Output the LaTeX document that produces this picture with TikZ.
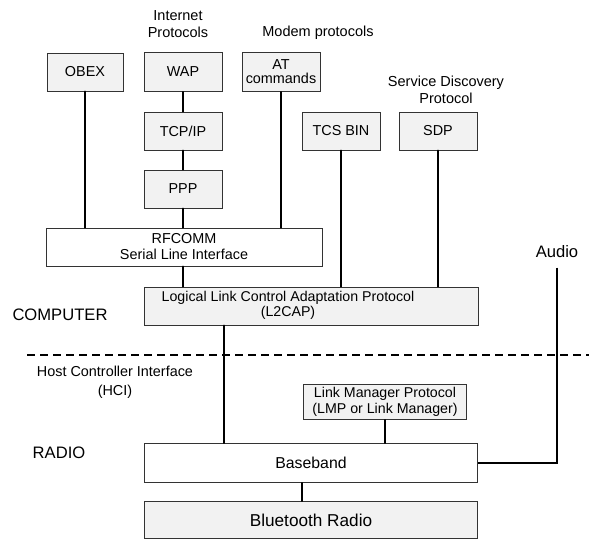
\documentclass[tikz,border=0pt]{standalone}
\usepackage{fontspec}
\setmainfont{Liberation Sans}
\usetikzlibrary{positioning}

\tikzset{
  layer/.style={draw=black!80, line width=0.8pt, fill=gray!10, inner sep=1pt,
    align=center, font=\fontsize{14.4}{14}\selectfont},
  plainlayer/.style={layer, fill=white},
  link/.style={line width=1.7pt, line cap=round},
  tag/.style={align=center, font=\fontsize{14.5}{17}\selectfont},
  bigtag/.style={font=\fontsize{16.6}{18}\selectfont},
  divider/.style={line width=1.4pt, dash pattern=on 8pt off 5pt}
}

\begin{document}
\begin{tikzpicture}[x=1pt, y=-1pt]
  \useasboundingbox (0,0) rectangle (589,541);
  % ---- upper protocols ----
  \node[layer, minimum width=76, minimum height=38] (obex) at (85,72) {OBEX};
  \node[layer, minimum width=78, minimum height=39] (wap) at (183,72) {WAP};
  \node[layer, minimum width=78, minimum height=38] (tcpip) at (183,131) {TCP/IP};
  \node[layer, minimum width=78, minimum height=38] (ppp) at (183,189) {PPP};
  \node[layer, minimum width=78, minimum height=39] (atcmd) at (281,72) {AT\\commands};
  \node[layer, minimum width=78, minimum height=38] (tcsbin) at (341,131) {TCS BIN};
  \node[layer, minimum width=78, minimum height=38] (sdp) at (438,131) {SDP};
  % ---- group labels ----
  \node[tag] (inetlbl) at (178,24) {Internet\\Protocols};
  \node[tag] (modemlbl) at (318,33) {Modem protocols};
  \node[tag] (sdplbl) at (446,90) {Service Discovery\\Protocol};
  % ---- RFCOMM and L2CAP ----
  \node[plainlayer, minimum width=276, minimum height=38, font=\fontsize{14.4}{16}\selectfont]
    (rfcomm) at (184,247) {RFCOMM\\Serial Line Interface};
  \node[layer, minimum width=334, minimum height=38]
    (ltcap) at (311,306) {\fontsize{14.2}{15}\selectfont
      \begin{tabular}{@{}c@{}}Logical Link Control Adaptation Protocol\\(L2CAP)\end{tabular}\hspace*{46pt}};
  \node[bigtag] (computer) at (60,315) {COMPUTER};
  % ---- host / radio split ----
  \coordinate (divl) at (27,355);
  \coordinate (divr) at (589,355);
  \draw[divider] (divl) -- (divr);
  \node[tag, font=\fontsize{14.4}{19}\selectfont] (hcilbl) at (115,382) {Host Controller Interface\\(HCI)};
  \node[bigtag] (radio) at (59,453) {RADIO};
  \node[bigtag] (audio) at (557,252) {Audio};
  % ---- radio side ----
  \node[layer, minimum width=163, minimum height=35, font=\fontsize{14.2}{16}\selectfont]
    (lmp) at (385,402) {Link Manager Protocol\\(LMP or Link Manager)};
  \node[plainlayer, minimum width=333, minimum height=39, font=\fontsize{15.8}{16}\selectfont]
    (baseband) at (311,463) {Baseband};
  \node[layer, minimum width=333, minimum height=37, font=\fontsize{17.2}{18}\selectfont]
    (btradio) at (311,520) {Bluetooth Radio};
  \coordinate (hci) at (224,340);
  \coordinate (bbtap) at (302,492);
  % ---- connectors ----
  \draw[link] (obex) -- (obex |- rfcomm.north);
  \draw[link] (wap) -- (tcpip);
  \draw[link] (tcpip) -- (ppp);
  \draw[link] (ppp) -- (ppp |- rfcomm.north);
  \draw[link] (atcmd) -- (atcmd |- rfcomm.north);
  \draw[link] (tcsbin) -- (tcsbin |- ltcap.north);
  \draw[link] (sdp) -- (sdp |- ltcap.north);
  \draw[link] (rfcomm.south -| ppp) -- (ltcap.north -| ppp);
  \draw[link] (ltcap.south -| hci) -- (baseband.north -| hci);
  \draw[link] (lmp) -- (lmp |- baseband.north);
  \draw[link] (baseband.south -| bbtap) -- (btradio.north -| bbtap);
  \draw[link, line cap=butt] ([yshift=-6pt]audio.south) |- (baseband.east);
\end{tikzpicture}
\end{document}
